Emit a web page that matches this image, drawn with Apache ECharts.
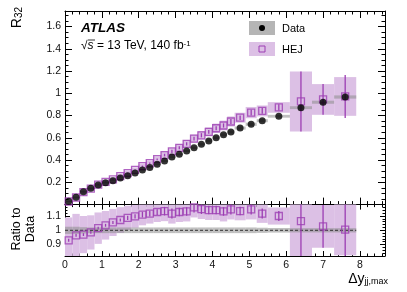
<!DOCTYPE html>
<html><head><meta charset="utf-8">
<script src="https://cdn.jsdelivr.net/npm/echarts@6/dist/echarts.min.js"></script>
<style>html,body{margin:0;padding:0;background:#fff}#c{width:407px;height:292px}</style>
</head><body><div id="c"></div>
<script>
// ---- data ----
const binEdges = [0,0.2,0.4,0.6,0.8,1.0,1.2,1.4,1.6,1.8,2.0,2.2,2.4,2.6,2.8,3.0,3.2,3.4,3.6,3.8,4.0,4.2,4.4,4.6,4.9,5.2,5.5,6.1,6.7,7.3,7.9];
const dataR32 = [0.030,0.066,0.116,0.146,0.176,0.197,0.215,0.239,0.260,0.284,0.311,0.333,0.362,0.392,0.428,0.452,0.482,0.511,0.542,0.572,0.601,0.628,0.652,0.688,0.722,0.754,0.794,0.871,0.920,0.967];
const dataUnc = [0.025,0.025,0.022,0.02,0.02,0.02,0.02,0.02,0.02,0.02,0.02,0.02,0.02,0.02,0.02,0.02,0.02,0.02,0.02,0.02,0.02,0.02,0.02,0.02,0.02,0.018,0.016,0.015,0.015,0.015];
const hejR32 = [0.028,0.064,0.113,0.144,0.179,0.204,0.227,0.256,0.283,0.312,0.345,0.372,0.408,0.445,0.478,0.510,0.546,0.593,0.623,0.653,0.686,0.711,0.747,0.781,0.827,0.842,0.873,0.927,0.945,0.972];
const hejRatio = [0.93,0.965,0.97,0.985,1.015,1.035,1.055,1.072,1.087,1.098,1.11,1.117,1.128,1.134,1.117,1.128,1.132,1.16,1.149,1.142,1.142,1.132,1.146,1.135,1.146,1.117,1.10,1.064,1.027,1.005];
const hejUnc = [0.16,0.15,0.13,0.12,0.11,0.10,0.095,0.09,0.085,0.08,0.075,0.07,0.07,0.07,0.07,0.07,0.07,0.07,0.07,0.07,0.07,0.07,0.07,0.065,0.07,0.065,0.06,0.31,0.15,0.18];
const hejStat = [0.01,0.01,0.01,0.01,0.01,0.01,0.01,0.01,0.015,0.015,0.02,0.02,0.02,0.03,0.035,0.03,0.03,0.035,0.035,0.03,0.03,0.03,0.035,0.03,0.035,0.035,0.035,0.31,0.15,0.2];
const xTickLabels = [0,1,2,3,4,5,6,7,8];
const mainYTickLabels = [0.2,0.4,0.6,0.8,1,1.2,1.4,1.6];
const ratioYTickLabels = [0.9,1,1.1];

// ---- style ----
const PURPLE = '#9c3db3';
const BAND = '#dcc0e5';
const GREY = 'rgba(140,140,140,0.55)';
const FONT = 'Liberation Sans';

const X_MIN = 0, X_MAX = 8.68;
const MAIN_Y = [0, 1.74];
const RATIO_Y = [0.82, 1.18];

function steps(lo, hi, step, skipStep) {
  const out = [];
  for (let i = 0; ; i++) {
    const v = +(lo + i * step).toFixed(5);
    if (v > hi + 1e-9) break;
    if (skipStep && Math.abs(v / skipStep - Math.round(v / skipStep)) < 1e-6) continue;
    out.push(v);
  }
  return out;
}
const xMajor = steps(0, 8.68, 1);
const xMinor = steps(0, 8.68, 0.2, 1);
const mYMajor = steps(0, 1.74, 0.2);
const mYMinor = steps(0, 1.74, 0.05, 0.2);
const rYMajor = [0.9, 1.0, 1.1];
const rYMinor = steps(0.82, 1.18, 0.02).filter(v => ![0.9,1,1.1].some(m => Math.abs(m - v) < 1e-6));

function axis(dim, grid, pos, range, ticks, len, isMajor, labels) {
  const a = {
    type: 'value', gridIndex: grid, position: pos, min: range[0], max: range[1],
    axisLine: { show: isMajor, onZero: false, lineStyle: { color: '#000', width: 1 } },
    axisTick: { show: true, inside: true, length: len, customValues: ticks, lineStyle: { color: '#000', width: 1 } },
    axisLabel: { show: !!labels, customValues: labels || [], color: '#111', fontFamily: FONT, fontSize: 10.5,
                 margin: dim === 'x' ? 4 : 4 },
    splitLine: { show: false }, minorTick: { show: false }
  };
  return a;
}

const xAxes = [], yAxes = [];
// main grid 0
xAxes.push(axis('x', 0, 'bottom', [X_MIN, X_MAX], xMajor, 7, true, null));
xAxes.push(axis('x', 0, 'bottom', [X_MIN, X_MAX], xMinor, 3.5, false, null));
xAxes.push(axis('x', 0, 'top', [X_MIN, X_MAX], xMajor, 7, true, null));
xAxes.push(axis('x', 0, 'top', [X_MIN, X_MAX], xMinor, 3.5, false, null));
yAxes.push(axis('y', 0, 'left', MAIN_Y, mYMajor, 7, true, mainYTickLabels));
yAxes.push(axis('y', 0, 'left', MAIN_Y, mYMinor, 3.5, false, null));
yAxes.push(axis('y', 0, 'right', MAIN_Y, mYMajor, 7, true, null));
yAxes.push(axis('y', 0, 'right', MAIN_Y, mYMinor, 3.5, false, null));
// ratio grid 1
xAxes.push(axis('x', 1, 'bottom', [X_MIN, X_MAX], xMajor, 5, true, xTickLabels));
xAxes.push(axis('x', 1, 'bottom', [X_MIN, X_MAX], xMinor, 2.5, false, null));
xAxes.push(axis('x', 1, 'top', [X_MIN, X_MAX], xMajor, 5, true, null));
xAxes.push(axis('x', 1, 'top', [X_MIN, X_MAX], xMinor, 2.5, false, null));
yAxes.push(axis('y', 1, 'left', RATIO_Y, rYMajor, 5, true, ratioYTickLabels));
yAxes.push(axis('y', 1, 'left', RATIO_Y, rYMinor, 2.5, false, null));
yAxes.push(axis('y', 1, 'right', RATIO_Y, rYMajor, 5, true, null));
yAxes.push(axis('y', 1, 'right', RATIO_Y, rYMinor, 2.5, false, null));

function rectItem(color) {
  return function (params, api) {
    const x0 = api.value(0), x1 = api.value(1), y0 = api.value(2), y1 = api.value(3);
    const p0 = api.coord([x0, y1]), p1 = api.coord([x1, y0]);
    const cs = params.coordSys;
    const shape = echarts.graphic.clipRectByRect(
      { x: p0[0], y: p0[1], width: p1[0] - p0[0], height: p1[1] - p0[1] },
      { x: cs.x, y: cs.y, width: cs.width, height: cs.height });
    if (!shape) return null;
    return { type: 'rect', shape: shape, style: { fill: color } };
  };
}
function vlineItem(params, api) {
  const x = api.value(0), lo = api.value(1), hi = api.value(2);
  const a = api.coord([x, lo]), b = api.coord([x, hi]);
  const cs = params.coordSys;
  const top = Math.max(cs.y, Math.min(a[1], b[1]));
  const bot = Math.min(cs.y + cs.height, Math.max(a[1], b[1]));
  if (bot <= top) return null;
  return { type: 'line', shape: { x1: a[0], y1: top, x2: a[0], y2: bot }, style: { stroke: PURPLE, lineWidth: 1.3 } };
}

const n = dataR32.length;
const lo = i => binEdges[i], hi = i => binEdges[i + 1], ctr = i => (binEdges[i] + binEdges[i + 1]) / 2;
const mainHejBand = [], mainDataBand = [], mainHejStat = [], mainHejPts = [], mainDataPts = [];
const ratHejBand = [], ratDataBand = [], ratHejStat = [], ratHejPts = [];
for (let i = 0; i < n; i++) {
  const d = dataR32[i];
  mainHejBand.push([lo(i), hi(i), hejR32[i] - hejUnc[i] * d, hejR32[i] + hejUnc[i] * d]);
  mainDataBand.push([lo(i), hi(i), d - dataUnc[i] * d, d + dataUnc[i] * d]);
  mainHejStat.push([ctr(i), hejR32[i] - hejStat[i] * d, hejR32[i] + hejStat[i] * d]);
  mainHejPts.push([ctr(i), hejR32[i]]);
  mainDataPts.push([ctr(i), d]);
  ratHejBand.push([lo(i), hi(i), hejRatio[i] - hejUnc[i], hejRatio[i] + hejUnc[i]]);
  ratDataBand.push([lo(i), hi(i), 1 - dataUnc[i], 1 + dataUnc[i]]);
  ratHejStat.push([ctr(i), hejRatio[i] - hejStat[i], hejRatio[i] + hejStat[i]]);
  ratHejPts.push([ctr(i), hejRatio[i]]);
}

const series = [
  { type: 'custom', xAxisIndex: 0, yAxisIndex: 0, renderItem: rectItem(BAND), data: mainHejBand, z: 1, silent: true },
  { type: 'custom', xAxisIndex: 0, yAxisIndex: 0, renderItem: rectItem(GREY), data: mainDataBand, z: 2, silent: true },
  { type: 'custom', xAxisIndex: 0, yAxisIndex: 0, renderItem: vlineItem, data: mainHejStat, z: 3, silent: true },
  { type: 'scatter', xAxisIndex: 0, yAxisIndex: 0, data: mainHejPts, symbol: 'rect', symbolSize: 7, z: 4,
    itemStyle: { color: 'rgba(0,0,0,0)', borderColor: PURPLE, borderWidth: 1.3 }, silent: true },
  { type: 'scatter', xAxisIndex: 0, yAxisIndex: 0, data: mainDataPts, symbol: 'circle', symbolSize: 7, z: 5,
    itemStyle: { color: '#000' }, silent: true },

  { type: 'custom', xAxisIndex: 4, yAxisIndex: 4, renderItem: rectItem(BAND), data: ratHejBand, z: 1, silent: true },
  { type: 'custom', xAxisIndex: 4, yAxisIndex: 4, renderItem: rectItem(GREY), data: ratDataBand, z: 2, silent: true },
  { type: 'line', xAxisIndex: 4, yAxisIndex: 4, data: [[0, 1], [binEdges[binEdges.length - 1], 1]], symbol: 'none', z: 3,
    lineStyle: { color: '#333', width: 1, type: [3, 2] }, silent: true },
  { type: 'custom', xAxisIndex: 4, yAxisIndex: 4, renderItem: vlineItem, data: ratHejStat, z: 4, silent: true },
  { type: 'scatter', xAxisIndex: 4, yAxisIndex: 4, data: ratHejPts, symbol: 'rect', symbolSize: 7, z: 5,
    itemStyle: { color: 'rgba(0,0,0,0)', borderColor: PURPLE, borderWidth: 1.3 }, silent: true }
];

const graphic = [
  { type: 'text', x: 17, y: 7, rotation: Math.PI / 2,
    style: { text: '{r|R}{s|32}', align: 'right', verticalAlign: 'middle',
      rich: { r: { fontFamily: FONT, fontSize: 14, fill: '#000' }, s: { fontFamily: FONT, fontSize: 10, fill: '#000', verticalAlign: 'bottom' } } } },
  { type: 'text', x: 24, y: 229, rotation: Math.PI / 2,
    style: { text: 'Ratio to\nData', align: 'center', verticalAlign: 'middle', fontFamily: FONT, fontSize: 12.5, lineHeight: 14, fill: '#000' } },
  { type: 'text', x: 81, y: 28,
    style: { text: 'ATLAS', fontFamily: FONT, fontWeight: 'bold', fontStyle: 'italic', fontSize: 13.5, verticalAlign: 'middle', fill: '#000' } },
  { type: 'text', x: 81, y: 46,
    style: { text: '√{o|s} = 13 TeV, 140 fb{sup|-1}', fontFamily: FONT, fontSize: 12, verticalAlign: 'middle', fill: '#000',
      rich: { o: { fontFamily: FONT, fontSize: 12, fontStyle: 'italic' }, sup: { fontFamily: FONT, fontSize: 8, verticalAlign: 'top' } } } },
  { type: 'line', shape: { x1: 88, y1: 40, x2: 95, y2: 40 }, style: { stroke: '#000', lineWidth: 0.8 } },
  { type: 'rect', shape: { x: 249, y: 21, width: 26, height: 14 }, style: { fill: '#b5b5b5' } },
  { type: 'circle', shape: { cx: 262, cy: 28, r: 3 }, style: { fill: '#000' } },
  { type: 'rect', shape: { x: 249, y: 42, width: 26, height: 14 }, style: { fill: BAND } },
  { type: 'rect', shape: { x: 259, y: 46, width: 6, height: 6 }, style: { fill: 'none', stroke: PURPLE, lineWidth: 1 } },
  { type: 'text', x: 282, y: 28.5, style: { text: 'Data', fontFamily: FONT, fontSize: 11, verticalAlign: 'middle', fill: '#000' } },
  { type: 'text', x: 282, y: 49.5, style: { text: 'HEJ', fontFamily: FONT, fontSize: 11, verticalAlign: 'middle', fill: '#000' } },
  { type: 'text', x: 388, y: 279, style: { text: 'Δy{s|jj,max}', align: 'right', verticalAlign: 'middle', fontFamily: FONT, fontSize: 14, fill: '#000',
      rich: { s: { fontFamily: FONT, fontSize: 9, verticalAlign: 'bottom' } } } }
];

const chart = echarts.init(document.getElementById('c'), null, { renderer: 'canvas' });
chart.setOption({
  animation: false,
  backgroundColor: '#fff',
  grid: [
    { left: 65, top: 11, width: 320, height: 193.6 },
    { left: 65, top: 204.6, width: 320, height: 51.4 }
  ],
  xAxis: xAxes,
  yAxis: yAxes,
  series: series,
  graphic: graphic
});
</script></body></html>
